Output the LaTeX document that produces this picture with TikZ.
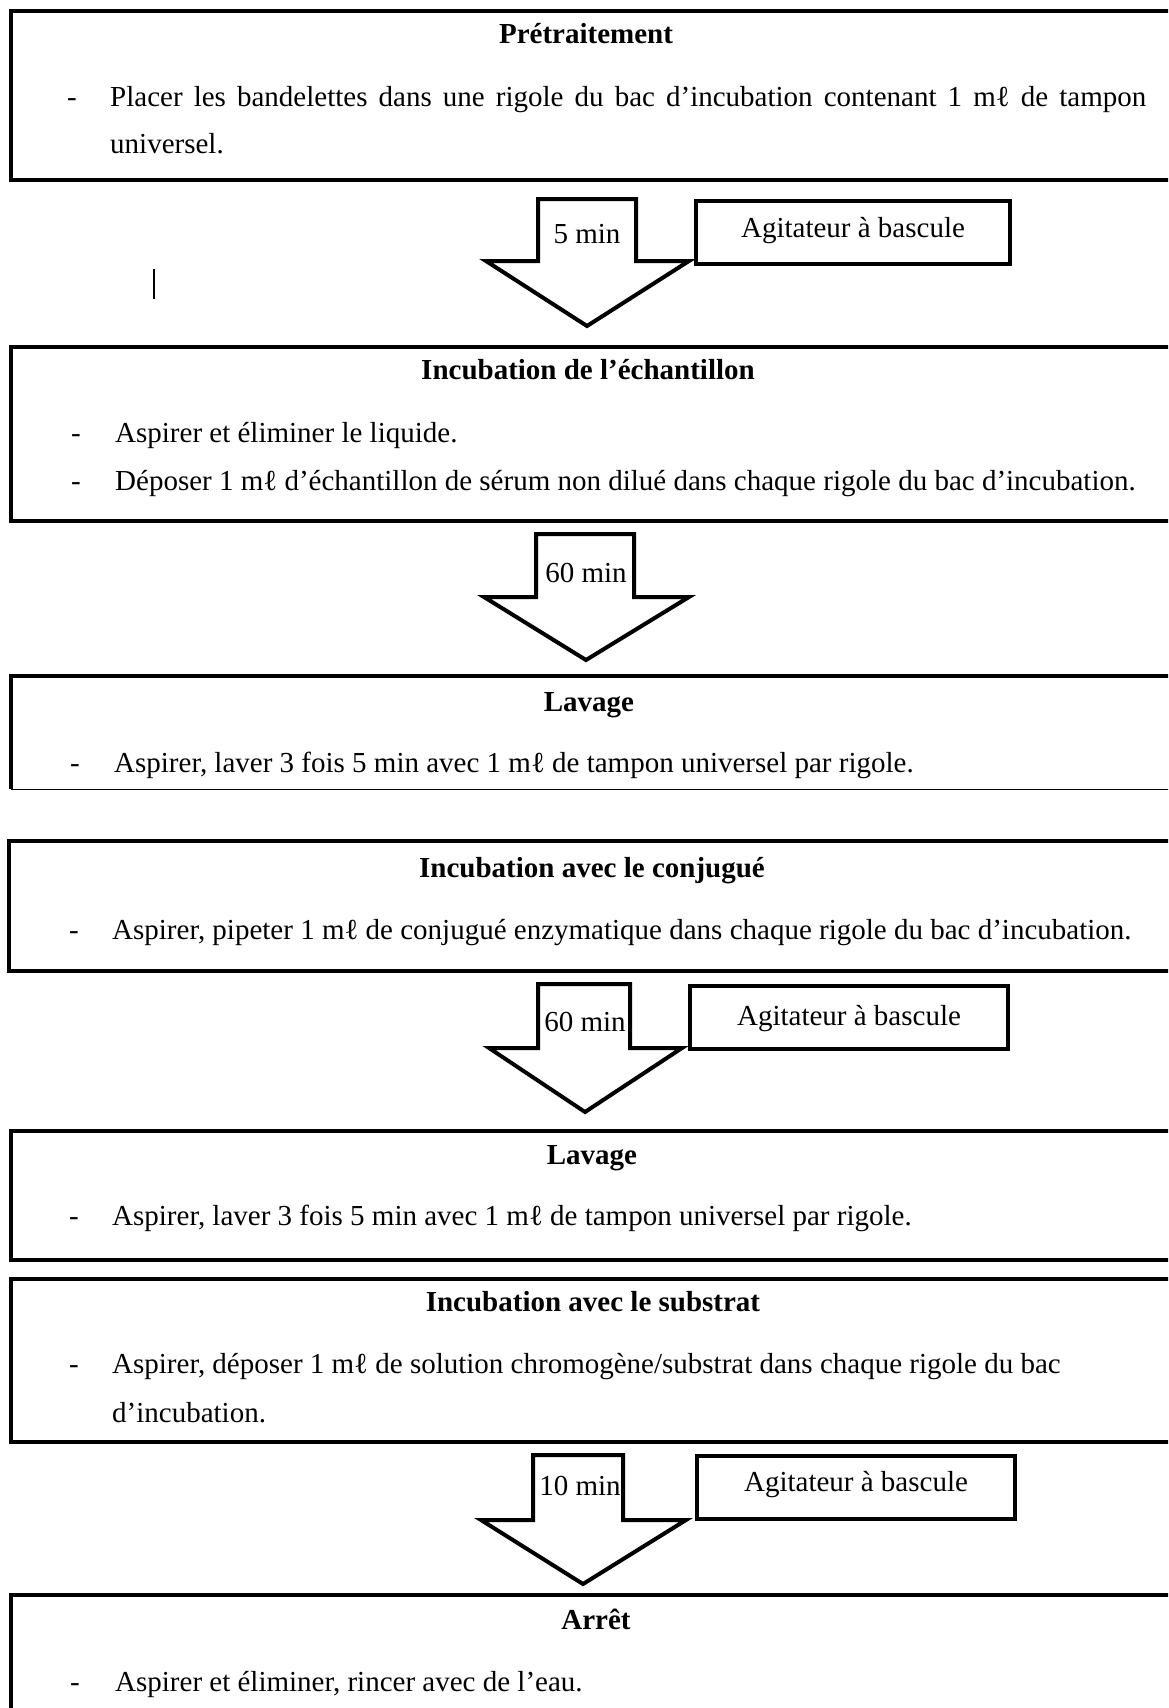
\documentclass[tikz,border=0pt]{standalone}
\usepackage{fontspec}
\setmainfont{Liberation Serif}
\begin{document}
\begin{tikzpicture}[x=1pt,y=-1pt,
  box/.style={draw, line width=4pt, anchor=north west, inner sep=0pt},
  agit/.style={draw, line width=4pt, anchor=north west, inner sep=0pt},
  barrow/.style={draw, line width=4pt, line join=miter, fill=white},
  ttl/.style={font=\fontsize{29}{34}\selectfont\bfseries, inner sep=0pt, anchor=base},
  body/.style={font=\fontsize{29}{34}\selectfont, inner sep=0pt, anchor=base west},
  lbl/.style={font=\fontsize{29}{34}\selectfont, inner sep=0pt, anchor=base},
  bul/.style={font=\fontsize{29}{34}\selectfont, inner sep=0pt, anchor=base}
]
\useasboundingbox (0,0) rectangle (1168,1708);
\clip (0,0) rectangle (1168,1708);
\fill[white] (0,0) rectangle (1168,1708);

% ---------- Box 1
\node[box, minimum width=1180pt, minimum height=169pt] (b1) at (9,9) {};
\node[ttl] (t1) at (586,43) {Prétraitement};
\node[bul] (d1) at (72,106) {-};
\node[body] (l1a) at (110,106) {\makebox[1036pt][s]{Placer les bandelettes dans une rigole du bac d’incubation contenant 1 mℓ de tampon}};
\node[body] (l1b) at (110,153) {universel.};

% ---------- Arrow 1
\draw[barrow] (538,199) -- (636,199) -- (636,261) -- (689,261) -- (587,326) -- (486,261) -- (538,261) -- cycle;
\node[lbl] (m1) at (587,243) {5 min};
\node[agit, minimum width=314pt, minimum height=63pt] (g1) at (694,199) {};
\node[lbl] (g1t) at (g1.center) [yshift=-5pt] {Agitateur à bascule};
\draw[line width=2.6pt] (154,269) -- (154,299);

% ---------- Box 2
\node[box, minimum width=1180pt, minimum height=174pt] (b2) at (9,345) {};
\node[ttl] (t2) at (588,379) {Incubation de l’échantillon};
\node[bul] (d2a) at (76,442) {-};
\node[body] (l2a) at (115,442) {Aspirer et éliminer le liquide.};
\node[bul] (d2b) at (76,490) {-};
\node[body] (l2b) at (115,490) {Déposer 1 mℓ d’échantillon de sérum non dilué dans chaque rigole du bac d’incubation.};

% ---------- Arrow 2
\draw[barrow] (536,534) -- (634,534) -- (634,597) -- (689,597) -- (586,660) -- (484,597) -- (536,597) -- cycle;
\node[lbl] (m2) at (586,582) {60 min};

% ---------- Box 3
\node[anchor=north west, inner sep=0pt, minimum width=1180pt, minimum height=113pt] (b3) at (11,676) {};
\draw[line width=4pt, line join=miter] (b3.south west) -- (b3.north west) -- (b3.north east);
\draw[line width=1.6pt] (b3.south west) -- (b3.south east);
\node[ttl] (t3) at (589,711) {Lavage};
\node[bul] (d3) at (75,772) {-};
\node[body] (l3) at (114,772) {Aspirer, laver 3 fois 5 min avec 1 mℓ de tampon universel par rigole.};

% ---------- Box 4
\node[box, minimum width=1180pt, minimum height=130pt] (b4) at (7,839) {};
\node[ttl] (t4) at (592,877) {Incubation avec le conjugué};
\node[bul] (d4) at (74,939) {-};
\node[body] (l4) at (112,939) {Aspirer, pipeter 1 mℓ de conjugué enzymatique dans chaque rigole du bac d’incubation.};

% ---------- Arrow 3
\draw[barrow] (538,984) -- (630,984) -- (630,1048) -- (682,1048) -- (585,1112) -- (489,1048) -- (538,1048) -- cycle;
\node[lbl] (m3) at (585,1031) {60 min};
\node[agit, minimum width=318pt, minimum height=63pt] (g3) at (688,984) {};
\node[lbl] (g3t) at (g3.center) [yshift=-8pt] {Agitateur à bascule};

% ---------- Box 5
\node[box, minimum width=1180pt, minimum height=129pt] (b5) at (9,1129) {};
\node[ttl] (t5) at (592,1164) {Lavage};
\node[bul] (d5) at (74,1225) {-};
\node[body] (l5) at (112,1225) {Aspirer, laver 3 fois 5 min avec 1 mℓ de tampon universel par rigole.};

% ---------- Box 6
\node[box, minimum width=1180pt, minimum height=163pt] (b6) at (9,1277) {};
\node[ttl] (t6) at (593,1311) {Incubation avec le substrat};
\node[bul] (d6) at (74,1373) {-};
\node[body] (l6a) at (112,1373) {Aspirer, déposer 1 mℓ de solution chromogène/substrat dans chaque rigole du bac};
\node[body] (l6b) at (112,1422) {d’incubation.};

% ---------- Arrow 4
\draw[barrow] (533,1455) -- (623,1455) -- (623,1520) -- (686,1520) -- (583,1584) -- (481,1520) -- (533,1520) -- cycle;
\node[lbl] (m4) at (580,1495) {10 min};
\node[agit, minimum width=318pt, minimum height=63pt] (g4) at (695,1454) {};
\node[lbl] (g4t) at (g4.center) [yshift=-4pt] {Agitateur à bascule};

% ---------- Box 7
\node[box, minimum width=1180pt, minimum height=200pt] (b7) at (9,1593) {};
\node[ttl] (t7) at (596,1629) {Arrêt};
\node[bul] (d7) at (75,1691) {-};
\node[body] (l7) at (115,1691) {Aspirer et éliminer, rincer avec de l’eau.};
\end{tikzpicture}
\end{document}
